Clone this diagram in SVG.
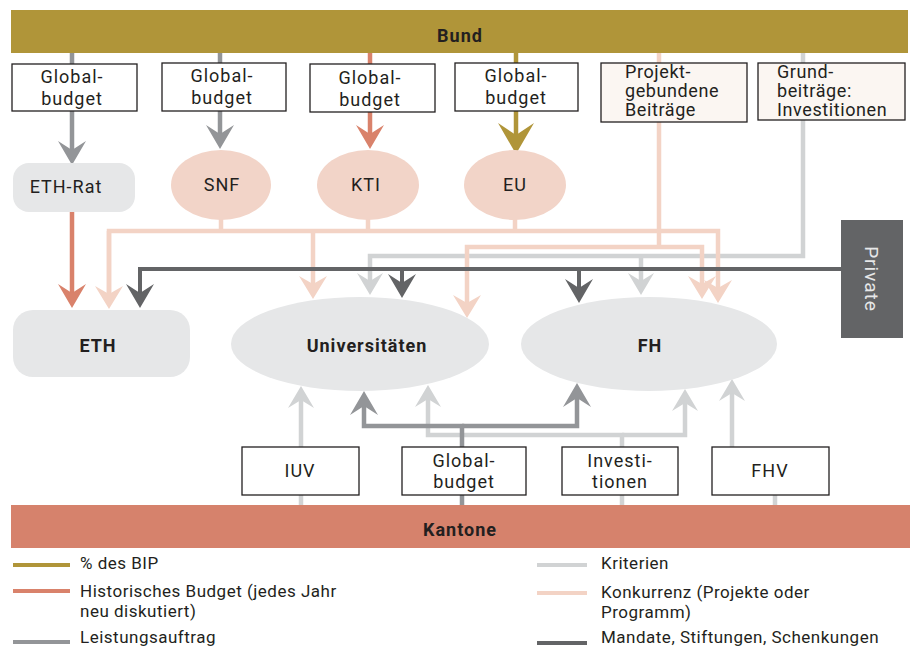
<svg xmlns="http://www.w3.org/2000/svg" width="922" height="648" viewBox="0 0 922 648">
<style>
text{font-family:Roboto,"Liberation Sans",sans-serif;fill:#231f20;}
.t{font-size:18px;letter-spacing:1px;text-anchor:middle;}
.tl{font-size:18px;letter-spacing:0.6px;}
.b{font-size:18px;font-weight:bold;letter-spacing:1px;text-anchor:middle;}
.lg{font-size:17px;letter-spacing:0.5px;}
.box{fill:#fff;stroke:#231f20;stroke-width:1.3;}
.box2{fill:#fbf6f2;stroke:#231f20;stroke-width:1.3;}
.ln{fill:none;stroke-width:4.5;stroke-linejoin:miter;}
.gold{stroke:#b09539;}.sal{stroke:#d9826b;}.gry{stroke:#939598;}.lgr{stroke:#d1d3d4;}.lsa{stroke:#f3d3c5;}.drk{stroke:#636466;}
</style>
<defs>
<marker id="aGold" markerUnits="userSpaceOnUse" orient="auto" overflow="visible" markerWidth="1" markerHeight="1" refX="0" refY="0"><path d="M10,0 L-21,-18 L-9,0 L-21,18 Z" fill="#b09539"/></marker>
<marker id="aSal" markerUnits="userSpaceOnUse" orient="auto" overflow="visible" markerWidth="1" markerHeight="1"><path d="M10,0 L-14,-14 L-5,0 L-14,14 Z" fill="#d9826b"/></marker>
<marker id="aGry" markerUnits="userSpaceOnUse" orient="auto" overflow="visible" markerWidth="1" markerHeight="1"><path d="M10,0 L-14,-14 L-5,0 L-14,14 Z" fill="#939598"/></marker>
<marker id="aLgr" markerUnits="userSpaceOnUse" orient="auto" overflow="visible" markerWidth="1" markerHeight="1"><path d="M10,0 L-12,-13 L-4,0 L-12,13 Z" fill="#d1d3d4"/></marker>
<marker id="aLsa" markerUnits="userSpaceOnUse" orient="auto" overflow="visible" markerWidth="1" markerHeight="1"><path d="M10,0 L-13,-14 L-5,0 L-13,14 Z" fill="#f3d3c5"/></marker>
<marker id="aDrk" markerUnits="userSpaceOnUse" orient="auto" overflow="visible" markerWidth="1" markerHeight="1"><path d="M10,0 L-14,-14 L-5,0 L-14,14 Z" fill="#636466"/></marker>
</defs>

<g id="bund"><rect x="11" y="10" width="897" height="43" fill="#b09539"/><text class="b" x="460" y="42">Bund</text></g>
<g id="kantone"><rect x="11" y="505" width="899" height="43" fill="#d6826c"/><text class="b" x="460" y="536">Kantone</text></g>

<g id="connectors">
<path class="ln gry" d="M72,53 V64 M220,53 V63"/>
<path class="ln sal" d="M370,53 V64"/>
<path class="ln gold" d="M516,53 V63"/>
<path class="ln gry" d="M72,111 V155" marker-end="url(#aGry)"/>
<path class="ln gry" d="M220,111 V139" marker-end="url(#aGry)"/>
<path class="ln sal" d="M370,112 V139" marker-end="url(#aSal)"/>
<path class="ln gold" d="M516,111 V144" marker-end="url(#aGold)"/>
<path class="ln sal" d="M72,212 V298" marker-end="url(#aSal)"/>
<path class="ln lgr" d="M803,53 V256 H370 V285" marker-end="url(#aLgr)"/>
<path class="ln lgr" d="M641,256 V285" marker-end="url(#aLgr)"/>
<path class="ln lsa" d="M221,218 V231 M368,218 V231 M515,218 V231"/>
<path class="ln lsa" d="M109,299 V231 H718 V293" marker-end="url(#aLsa)"/>
<path class="ln lsa" d="M109,231 V299" marker-end="url(#aLsa)"/>
<path class="ln lsa" d="M313,231 V289" marker-end="url(#aLsa)"/>
<path class="ln lsa" d="M659,53 V247"/>
<path class="ln lsa" d="M659,247 H467 V308" marker-end="url(#aLsa)"/>
<path class="ln lsa" d="M659,247 H702 V289" marker-end="url(#aLsa)"/>
<path class="ln drk" style="stroke-width:4" d="M843,269 H140 V298" marker-end="url(#aDrk)"/>
<path class="ln drk" style="stroke-width:4" d="M402,269 V288" marker-end="url(#aDrk)"/>
<path class="ln drk" style="stroke-width:4" d="M579,269 V293" marker-end="url(#aDrk)"/>
<path class="ln lgr" d="M301,505 V495 M301,447 V396" marker-end="url(#aLgr)"/>
<path class="ln lgr" d="M622,505 V495 M622,447 V435 H428 V395" marker-end="url(#aLgr)"/>
<path class="ln lgr" d="M622,435 H685 V399" marker-end="url(#aLgr)"/>
<path class="ln lgr" d="M775,505 V495 M732,447 V389" marker-end="url(#aLgr)"/>
<path class="ln gry" d="M462,505 V495 M462,447 V426 H364 V401" marker-end="url(#aGry)"/>
<path class="ln gry" d="M462,426 H577 V393" marker-end="url(#aGry)"/>
</g>

<g id="box-gb1"><rect class="box" x="12" y="64" width="125" height="47"/><text class="t" x="72" y="83">Global-</text><text class="t" x="72" y="105">budget</text></g>
<g id="box-gb2"><rect class="box" x="162" y="63" width="124" height="48"/><text class="t" x="222" y="82">Global-</text><text class="t" x="222" y="104">budget</text></g>
<g id="box-gb3"><rect class="box" x="310" y="64" width="125" height="48"/><text class="t" x="370" y="84">Global-</text><text class="t" x="370" y="106">budget</text></g>
<g id="box-gb4"><rect class="box" x="455" y="63" width="123" height="48"/><text class="t" x="516" y="82">Global-</text><text class="t" x="516" y="104">budget</text></g>
<g id="box-projekt"><rect class="box2" x="601" y="63" width="146" height="59"/><text class="tl" x="625" y="78">Projekt-</text><text class="tl" x="625" y="97">gebundene</text><text class="tl" x="625" y="116">Beiträge</text></g>
<g id="box-grund"><rect class="box2" x="758" y="63" width="147" height="57"/><text class="tl" x="777" y="78">Grund-</text><text class="tl" x="777" y="97">beiträge:</text><text class="tl" x="777" y="116">Investitionen</text></g>

<g id="eth-rat"><rect x="13" y="163" width="122" height="49" rx="16" fill="#e6e7e8"/><text class="t" x="66" y="193">ETH-Rat</text></g>
<g id="snf"><ellipse cx="221" cy="185" rx="50" ry="35" fill="#f2d4c8"/><text class="t" x="222" y="191">SNF</text></g>
<g id="kti"><ellipse cx="368" cy="185" rx="51" ry="35" fill="#f2d4c8"/><text class="t" x="366" y="191">KTI</text></g>
<g id="eu"><ellipse cx="515" cy="185" rx="51" ry="35" fill="#f2d4c8"/><text class="t" x="515" y="191">EU</text></g>

<g id="private"><rect x="841" y="220" width="62" height="118" fill="#636466"/><text x="871" y="279" transform="rotate(90 871 279)" style="font-size:19px;letter-spacing:1px;fill:#e6e7e8;text-anchor:middle;dominant-baseline:central">Private</text></g>

<g id="eth"><rect x="13" y="310" width="177" height="67" rx="20" fill="#e6e7e8"/><text class="b" x="98" y="352">ETH</text></g>
<g id="uni"><ellipse cx="360" cy="344" rx="129" ry="47" fill="#e6e7e8"/><text class="b" x="367" y="352">Universitäten</text></g>
<g id="fh"><ellipse cx="649" cy="344" rx="128" ry="47" fill="#e6e7e8"/><text class="b" x="650" y="352">FH</text></g>

<g id="box-iuv"><rect class="box" x="242" y="447" width="117" height="48"/><text class="t" x="300" y="477">IUV</text></g>
<g id="box-gbk"><rect class="box" x="402" y="447" width="124" height="48"/><text class="t" x="464" y="467">Global-</text><text class="t" x="464" y="488">budget</text></g>
<g id="box-inv"><rect class="box" x="562" y="447" width="116" height="48"/><text class="t" x="620" y="467">Investi-</text><text class="t" x="620" y="488">tionen</text></g>
<g id="box-fhv"><rect class="box" x="712" y="447" width="117" height="48"/><text class="t" x="770" y="477">FHV</text></g>

<g id="legend">
<line x1="13" y1="565" x2="70" y2="565" stroke="#b09539" stroke-width="4"/>
<line x1="13" y1="591" x2="70" y2="591" stroke="#d9826b" stroke-width="4"/>
<line x1="13" y1="642" x2="70" y2="642" stroke="#939598" stroke-width="4"/>
<line x1="537" y1="565" x2="587" y2="565" stroke="#d1d3d4" stroke-width="4"/>
<line x1="537" y1="593" x2="587" y2="593" stroke="#f3d3c5" stroke-width="4"/>
<line x1="537" y1="643" x2="587" y2="643" stroke="#636466" stroke-width="4"/>
<text class="lg" x="80" y="569">% des BIP</text>
<text class="lg" x="80" y="597">Historisches Budget (jedes Jahr</text>
<text class="lg" x="80" y="617">neu diskutiert)</text>
<text class="lg" x="80" y="643">Leistungsauftrag</text>
<text class="lg" x="601" y="569">Kriterien</text>
<text class="lg" x="601" y="598">Konkurrenz (Projekte oder</text>
<text class="lg" x="601" y="618">Programm)</text>
<text class="lg" x="601" y="643">Mandate, Stiftungen, Schenkungen</text>
</g>
</svg>
